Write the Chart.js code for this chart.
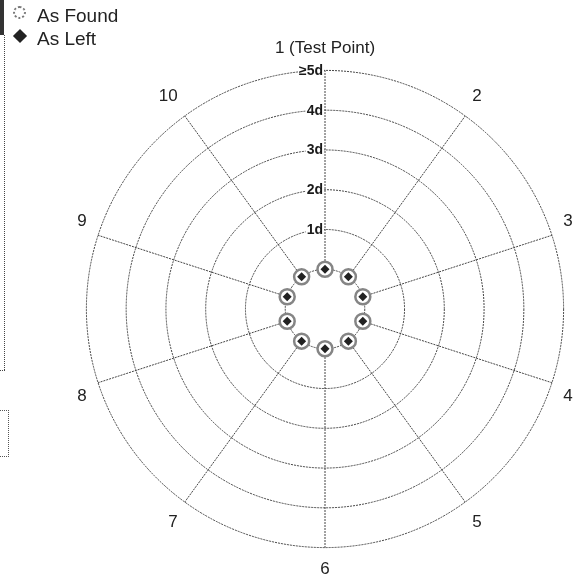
<!DOCTYPE html>
<html>
<head>
<meta charset="utf-8">
<script src="https://cdn.jsdelivr.net/npm/chart.js@4/dist/chart.umd.min.js"></script>
<style>
html,body{margin:0;padding:0;background:#fff;}
#wrap{position:relative;width:578px;height:581px;overflow:hidden;background:#fff;}
#chart{position:absolute;left:0;top:0;}
.lg{position:absolute;left:0;top:0;font-family:"Liberation Sans",Arial,sans-serif;font-size:19px;color:#222;line-height:1;}
.lg .item{position:absolute;left:37px;white-space:nowrap;}
.ic-circle{position:absolute;left:13px;top:6px;width:9px;height:9px;border-radius:50%;border:2.5px dotted #777;background:#fff;}
.ic-diamond{position:absolute;left:15px;top:31px;width:10px;height:10px;background:#222;transform:rotate(45deg);}
.deco-bar{position:absolute;left:0;top:0;width:4px;height:35px;background:#333;}
.deco-line{position:absolute;left:4px;top:35px;width:0;height:335px;border-left:1px dotted #444;}
.deco-end{position:absolute;left:0;top:370px;width:5px;height:0;border-top:1px dotted #444;}
.deco-box{position:absolute;left:-2px;top:410px;width:9px;height:45px;border:1px dotted #555;}
</style>
</head>
<body>
<div id="wrap">
  <canvas id="chart" width="578" height="581"></canvas>
  <div class="deco-bar"></div><div class="deco-line"></div><div class="deco-end"></div><div class="deco-box"></div>
  <div class="lg" id="legend"></div>
</div>
<script>
// ---- data ----
const categories = ['1 (Test Point)', '2', '3', '4', '5', '6', '7', '8', '9', '10'];
const asFound = [0, 0, 0, 0, 0, 0, 0, 0, 0, 0];
const asLeft = [0, 0, 0, 0, 0, 0, 0, 0, 0, 0];
const seriesNames = ['As Found', 'As Left'];
const tickValues = [0, 1, 2, 3, 4, 5];
const tickLabels = ['', '1d', '2d', '3d', '4d', '\u22655d'];

// ---- legend (HTML, built from series names) ----
const lg = document.getElementById('legend');
lg.innerHTML =
  '<div class="ic-circle"></div><div class="item" style="top:6px">' + seriesNames[0] + '</div>' +
  '<div class="ic-diamond"></div><div class="item" style="top:29px">' + seriesNames[1] + '</div>';

// hide spokes inside the innermost ring
const centerMask = {
  id: 'centerMask',
  beforeDatasetsDraw(chart) {
    const s = chart.scales.r;
    const c = chart.ctx;
    const d0 = s.getDistanceFromCenterForValue(0);
    c.save();
    c.beginPath();
    c.arc(s.xCenter, s.yCenter, d0 - 0.9, 0, Math.PI * 2);
    c.fillStyle = '#fff';
    c.fill();
    c.restore();
  }
};

// tick labels right-aligned against the first spoke
const tickLabelPlugin = {
  id: 'tickLbl',
  afterDatasetsDraw(chart) {
    const s = chart.scales.r;
    const c = chart.ctx;
    c.save();
    c.font = 'bold 14px "Liberation Sans", Arial, sans-serif';
    c.textAlign = 'right';
    c.textBaseline = 'middle';
    tickValues.forEach((v, i) => {
      const lab = tickLabels[i];
      if (!lab) return;
      const d = s.getDistanceFromCenterForValue(v);
      const x = s.xCenter - 2;
      const y = s.yCenter - d;
      const w = c.measureText(lab).width;
      c.fillStyle = '#fff';
      c.fillRect(x - w - 1, y - 7, w + 2, 14);
      c.fillStyle = '#1a1a1a';
      c.fillText(lab, x, y + 0.5);
    });
    c.restore();
  }
};

new Chart(document.getElementById('chart').getContext('2d'), {
  type: 'radar',
  data: {
    labels: categories,
    datasets: [
      {
        label: seriesNames[0],
        data: asFound,
        showLine: false,
        fill: false,
        borderWidth: 0,
        pointStyle: 'circle',
        pointRadius: 7.5,
        pointBorderWidth: 2.5,
        pointBorderColor: '#858585',
        pointBackgroundColor: '#ffffff',
        order: 2
      },
      {
        label: seriesNames[1],
        data: asLeft,
        showLine: false,
        fill: false,
        borderWidth: 0,
        pointStyle: 'rectRot',
        pointRadius: 4.5,
        pointBorderWidth: 0,
        pointBorderColor: '#222',
        pointBackgroundColor: '#222',
        order: 1
      }
    ]
  },
  options: {
    responsive: false,
    animation: false,
    layout: { padding: { left: 72, top: 38, right: 0, bottom: 0 } },
    plugins: { legend: { display: false }, tooltip: { enabled: false } },
    scales: {
      r: {
        min: -1,
        max: 5,
        beginAtZero: false,
        ticks: { display: false, stepSize: 1 },
        grid: {
          circular: true,
          color: (ctx) => (ctx.tick && ctx.tick.value < 0 ? 'rgba(0,0,0,0)' : '#444'),
          lineWidth: 1
        },
        border: { dash: [2, 1] },
        angleLines: { color: '#444', lineWidth: 1, borderDash: [2, 1] },
        pointLabels: {
          font: { family: '"Liberation Sans", Arial, sans-serif', size: 17 },
          color: '#222',
          padding: 12
        }
      }
    }
  },
  plugins: [centerMask, tickLabelPlugin]
});
</script>
</body>
</html>
